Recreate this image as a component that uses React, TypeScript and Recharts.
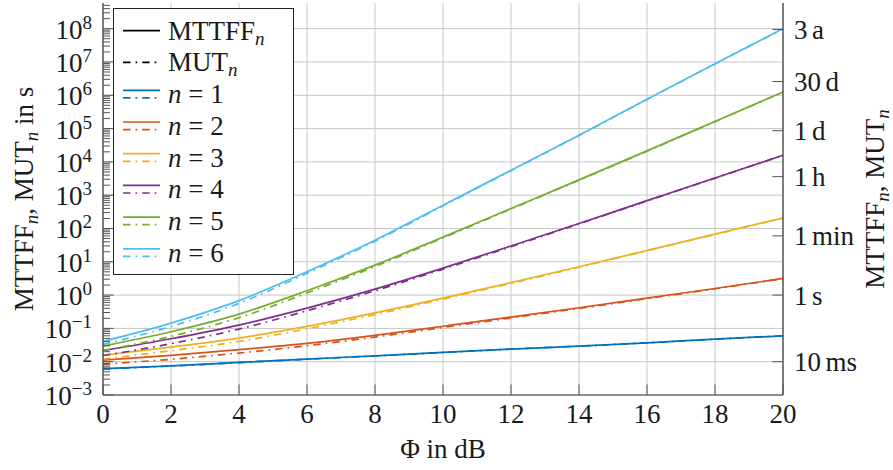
import React from 'react';
import { LineChart, Line, XAxis, YAxis, CartesianGrid, Legend } from 'recharts';

// ---------- data ----------
const phi = [0, 2, 4, 6, 8, 10, 12, 14, 16, 18, 20];

const mttff1 = [0.0062, 0.0075, 0.0095, 0.012, 0.015, 0.019, 0.0239, 0.0294, 0.0369, 0.0476, 0.0599];
const mut1 = [0.0061, 0.0074, 0.0094, 0.0119, 0.0149, 0.0189, 0.0238, 0.0293, 0.0368, 0.0475, 0.0598];
const mttff2 = [0.0112, 0.0155, 0.0229, 0.0355, 0.0617, 0.116, 0.219, 0.417, 0.813, 1.58, 3.16];
const mut2 = [0.0085, 0.0118, 0.0182, 0.0302, 0.055, 0.107, 0.206, 0.398, 0.785, 1.55, 3.1];
const mttff3 = [0.0158, 0.0275, 0.0513, 0.115, 0.292, 0.813, 2.37, 7.08, 21.9, 67.6, 207];
const mut3 = [0.012, 0.0214, 0.0407, 0.0977, 0.26, 0.759, 2.26, 6.84, 21.4, 66.4, 205];
const mttff4 = [0.0215, 0.049, 0.126, 0.407, 1.51, 6.46, 29.9, 141, 684, 3270, 15800];
const mut4 = [0.0152, 0.0347, 0.0955, 0.339, 1.35, 6.03, 28.5, 138, 671, 3240, 15700];
const mttff5 = [0.0294, 0.0794, 0.269, 1.35, 7.94, 55, 398, 2880, 21400, 164000, 1250000];
const mut5 = [0.0218, 0.0575, 0.209, 1.15, 7.24, 51.9, 385, 2820, 21000, 162000, 1240000];
const mttff6 = [0.0406, 0.144, 0.681, 5.05, 44.5, 500, 5610, 63000, 757000, 8790000, 100000000];
const mut6 = [0.033, 0.114, 0.566, 4.5, 41.5, 478, 5480, 61800, 748000, 8730000, 99500000];

const seriesN = [1, 2, 3, 4, 5, 6];
const seriesColors = ['#0072BD', '#D95319', '#EDB120', '#7E2F8E', '#77AC30', '#4DBEEE'];
const mttffSeries = [mttff1, mttff2, mttff3, mttff4, mttff5, mttff6];
const mutSeries = [mut1, mut2, mut3, mut4, mut5, mut6];

const xTicks = [0, 2, 4, 6, 8, 10, 12, 14, 16, 18, 20];
const yMajorTicks = [1e-3, 1e-2, 1e-1, 1, 1e1, 1e2, 1e3, 1e4, 1e5, 1e6, 1e7, 1e8];
const yMinorFactors = [2, 3, 4, 5, 6, 7, 8, 9];
const yMin = 1e-3;
const yMax = 5.9e8;
const timeTicks = [0.01, 1, 60, 3600, 86400, 2592000, 94608000];
const timeNumbers = ['10', '1', '1', '1', '1', '30', '3'];
const timeUnits = ['ms', 's', 'min', 'h', 'd', 'd', 'a'];

// ---------- derived ----------
const yAllTicks = [
  ...yMajorTicks,
  ...yMajorTicks.flatMap((p) => yMinorFactors.map((f) => f * p)),
]
  .filter((v) => v <= yMax)
  .sort((a, b) => a - b);

const data = phi.map((p, i) => {
  const row: Record<string, number> = { phi: p };
  seriesN.forEach((n, k) => {
    row[`t${n}`] = mttffSeries[k][i];
    row[`u${n}`] = mutSeries[k][i];
  });
  return row;
});

// ---------- styling ----------
const FONT = "'Liberation Serif', 'DejaVu Serif', serif";
const TEXT = '#1a1a1a';
const TICK = '#555555';
const AXIS = '#3a3a3a';
const GRID = '#c6c6c6';
const FS = 27;
const FS_SMALL = 19;
const MAJOR = 10.6;
const MINOR = 7;
const DASHDOT = '7.5 5 1.7 5';
const LW = 1.7;

const isMajor = (v: number) => {
  const e = Math.round(Math.log10(v));
  return Math.abs(Math.log10(v) - e) < 1e-9;
};

const BottomTick = (props: any) => {
  const { x, y, payload } = props;
  return (
    <g>
      <line x1={x} x2={x} y1={y} y2={y - MAJOR} stroke={TICK} strokeWidth={1} />
      <text x={x} y={y + 28} textAnchor="middle" fontFamily={FONT} fontSize={FS} fill={TEXT}>
        {payload.value}
      </text>
    </g>
  );
};

const TopTick = (props: any) => {
  const { x, y } = props;
  return <line x1={x} x2={x} y1={y} y2={y + MAJOR} stroke={TICK} strokeWidth={1} />;
};

const LeftTick = (props: any) => {
  const { x, y, payload } = props;
  const v = payload.value as number;
  const major = isMajor(v);
  const e = Math.round(Math.log10(v));
  return (
    <g>
      <line x1={x} x2={x + (major ? MAJOR : MINOR)} y1={y} y2={y} stroke={TICK} strokeWidth={1} />
      {major && (
        <text x={x - 11} y={y + 10} textAnchor="end" fontFamily={FONT} fontSize={FS} fill={TEXT}>
          10
          <tspan dy={-10} fontSize={FS_SMALL}>
            {e < 0 ? `\u2212${-e}` : `${e}`}
          </tspan>
        </text>
      )}
    </g>
  );
};

const RightTick = (props: any) => {
  const { x, y, payload } = props;
  const idx = timeTicks.indexOf(payload.value);
  return (
    <g>
      <line x1={x} x2={x - MAJOR} y1={y} y2={y} stroke={TICK} strokeWidth={1} />
      {idx >= 0 && (
        <text x={x + 11} y={y + 9.5} textAnchor="start" fontFamily={FONT} fontSize={FS} fill={TEXT}>
          {timeNumbers[idx]}
          <tspan dx={4.5}>{timeUnits[idx]}</tspan>
        </text>
      )}
    </g>
  );
};

const Sub = ({ children }: { children: React.ReactNode }) => (
  <tspan fontStyle="italic" fontSize={FS_SMALL} dy={5}>
    {children}
  </tspan>
);

const RotLabel = ({ cx, cy, withUnit }: { cx: number; cy: number; withUnit: boolean }) => (
  <text
    x={cx}
    y={cy}
    transform={`rotate(-90 ${cx} ${cy})`}
    textAnchor="middle"
    fontFamily={FONT}
    fontSize={FS}
    fill={TEXT}
  >
    MTTFF
    <Sub>n</Sub>
    <tspan dy={-5}>, MUT</tspan>
    <Sub>n</Sub>
    {withUnit ? <tspan dy={-5}> in s</tspan> : null}
  </text>
);

const leftLabel = (props: any) => {
  const vb = props.viewBox;
  return <RotLabel cx={vb.x + 33} cy={vb.y + vb.height / 2} withUnit />;
};

const rightLabel = (props: any) => {
  const vb = props.viewBox;
  return <RotLabel cx={vb.x + 101} cy={vb.y + vb.height / 2} withUnit={false} />;
};

const bottomLabel = (props: any) => {
  const vb = props.viewBox;
  return (
    <text
      x={vb.x + vb.width / 2}
      y={vb.y + 63}
      textAnchor="middle"
      fontFamily={FONT}
      fontSize={FS}
      fill={TEXT}
    >
      Φ in dB
    </text>
  );
};

const LegendBox = () => {
  const W = 180;
  const H = 266;
  const x0 = 10;
  const x1 = 47;
  const tx = 55;
  const rowY = (i: number) => 22.7 + 31.7 * i;
  return (
    <svg width={W + 1} height={H + 1} style={{ display: 'block' }}>
      <rect x={0.5} y={0.5} width={W} height={H} fill="#ffffff" stroke="#222222" strokeWidth={1} />
      <line x1={x0} x2={x1} y1={rowY(0)} y2={rowY(0)} stroke="#000" strokeWidth={LW} />
      <text x={tx} y={rowY(0) + 9} fontFamily={FONT} fontSize={FS} fill={TEXT}>
        MTTFF
        <Sub>n</Sub>
      </text>
      <line x1={x0} x2={x1} y1={rowY(1)} y2={rowY(1)} stroke="#000" strokeWidth={LW} strokeDasharray={DASHDOT} />
      <text x={tx} y={rowY(1) + 9} fontFamily={FONT} fontSize={FS} fill={TEXT}>
        MUT
        <Sub>n</Sub>
      </text>
      {seriesN.map((n, k) => {
        const cy = rowY(k + 2);
        return (
          <g key={n}>
            <line x1={x0} x2={x1} y1={cy - 3.8} y2={cy - 3.8} stroke={seriesColors[k]} strokeWidth={LW} />
            <line
              x1={x0}
              x2={x1}
              y1={cy + 3.8}
              y2={cy + 3.8}
              stroke={seriesColors[k]}
              strokeWidth={LW}
              strokeDasharray={DASHDOT}
            />
            <text x={tx} y={cy + 9} fontFamily={FONT} fontSize={FS} fill={TEXT}>
              <tspan fontStyle="italic">n</tspan> = {n}
            </text>
          </g>
        );
      })}
    </svg>
  );
};

export default function App() {
  return (
    <div style={{ position: 'absolute', left: 0, top: 0, width: 893, height: 470, background: '#fff' }}>
      <LineChart width={893} height={470} data={data} margin={{ top: 3, right: 0, bottom: 0, left: 0 }}>
        <CartesianGrid
          stroke={GRID}
          strokeWidth={1}
          horizontalValues={yMajorTicks}
          verticalValues={xTicks}
        />
        <XAxis
          dataKey="phi"
          type="number"
          domain={[0, 20]}
          ticks={xTicks}
          interval={0}
          height={75}
          tickSize={0}
          tickMargin={0}
          tick={<BottomTick />}
          tickLine={false}
          axisLine={{ stroke: AXIS, strokeWidth: 1.2 }}
          label={{ content: bottomLabel }}
        />
        <XAxis
          xAxisId="top"
          orientation="top"
          dataKey="phi"
          type="number"
          domain={[0, 20]}
          ticks={xTicks}
          interval={0}
          height={0}
          tickSize={0}
          tickMargin={0}
          tick={<TopTick />}
          tickLine={false}
          axisLine={{ stroke: AXIS, strokeWidth: 1.2 }}
        />
        <YAxis
          type="number"
          scale="log"
          domain={[yMin, yMax]}
          allowDataOverflow
          ticks={yAllTicks}
          interval={0}
          width={103}
          tickSize={0}
          tickMargin={0}
          tick={<LeftTick />}
          tickLine={false}
          axisLine={{ stroke: AXIS, strokeWidth: 1.2 }}
          label={{ content: leftLabel }}
        />
        <YAxis
          yAxisId="right"
          orientation="right"
          type="number"
          scale="log"
          domain={[yMin, yMax]}
          allowDataOverflow
          ticks={timeTicks}
          interval={0}
          width={110}
          tickSize={0}
          tickMargin={0}
          tick={<RightTick />}
          tickLine={false}
          axisLine={{ stroke: AXIS, strokeWidth: 1.2 }}
          label={{ content: rightLabel }}
        />
        {seriesN.map((n, k) => [
          <Line
            key={`t${n}`}
            dataKey={`t${n}`}
            type="monotone"
            stroke={seriesColors[k]}
            strokeWidth={LW}
            dot={false}
            activeDot={false}
            isAnimationActive={false}
          />,
          <Line
            key={`u${n}`}
            dataKey={`u${n}`}
            type="monotone"
            stroke={seriesColors[k]}
            strokeWidth={LW}
            strokeDasharray={DASHDOT}
            dot={false}
            activeDot={false}
            isAnimationActive={false}
          />,
        ])}
        <Legend
          content={LegendBox}
          layout="vertical"
          align="center"
          verticalAlign="middle"
          wrapperStyle={{ left: 113, top: 8 }}
        />
      </LineChart>
    </div>
  );
}
